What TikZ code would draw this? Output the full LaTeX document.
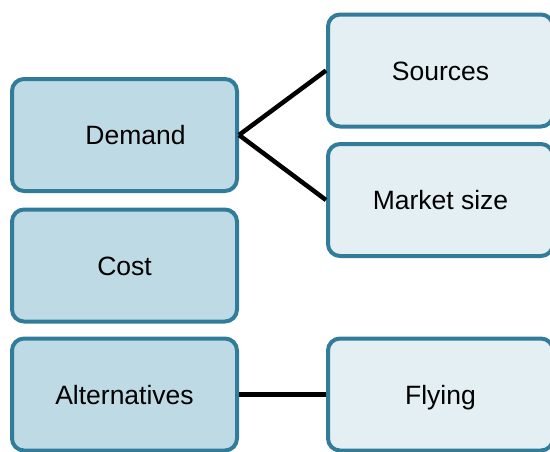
\documentclass[tikz,border=0pt]{standalone}
\usepackage{fontspec}
\setmainfont{Liberation Sans}
\definecolor{boxline}{HTML}{317D99}
\definecolor{darkfill}{HTML}{BEDAE4}
\definecolor{lightfill}{HTML}{E4EFF4}
\begin{document}
\begin{tikzpicture}[x=1pt,y=-1pt,
    topic/.style={shape=rectangle,rounded corners=12pt,draw=boxline,line width=4pt,fill=darkfill,
        minimum width=225pt,minimum height=112pt,inner sep=0pt,text height=19pt,text depth=0pt,
        font=\fontsize{26.5}{31}\selectfont},
    subtopic/.style={topic,fill=lightfill}]
                \useasboundingbox (0,0) rectangle (550,451);
                \node[topic] (demand) at (124.5,135) {\hspace*{22pt}Demand};
                \node[topic] (cost) at (124.5,265.5) {Cost};
                \node[topic] (alternatives) at (124.5,394.5) {Alternatives};
                \node[subtopic] (sources) at (440.5,70.5) {Sources};
                \node[subtopic] (marketsize) at (440.5,200) {Market size};
                \node[subtopic] (flying) at (440.5,394.5) {Flying};

                \path [-,line width=4.5pt] (demand.east) edge (sources.west);
                \path [-,line width=4.5pt] (demand.east) edge (marketsize.west);
                \path [-,line width=4.5pt] (alternatives.east) edge (flying.west);
            \end{tikzpicture}
\end{document}
